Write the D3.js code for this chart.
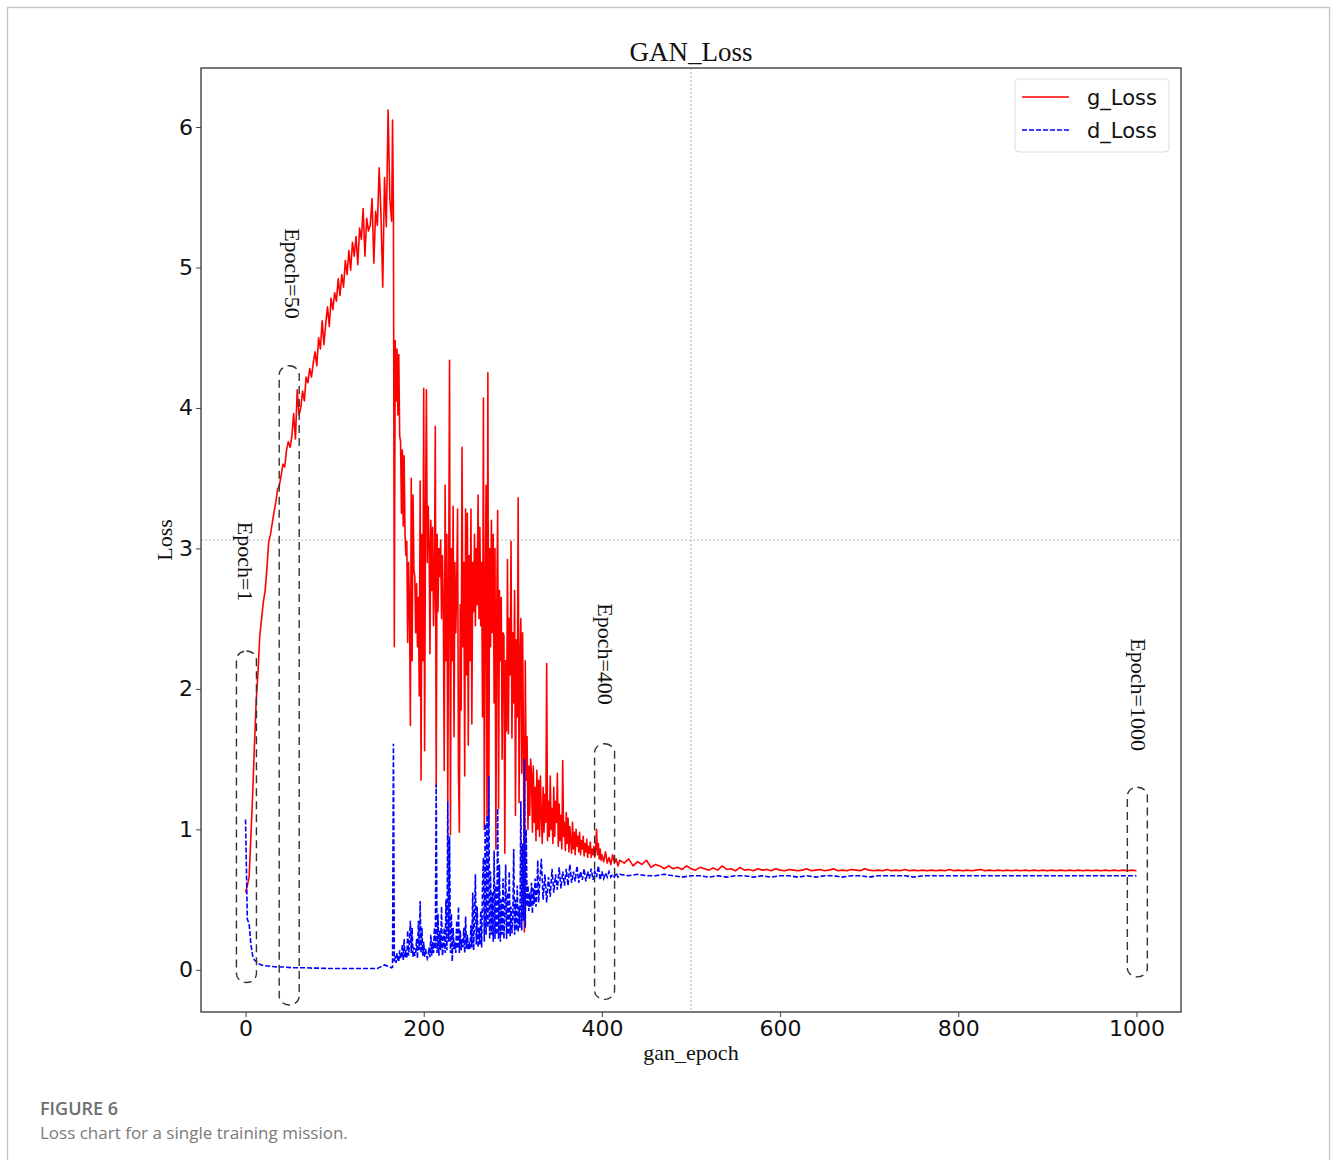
<!DOCTYPE html>
<html>
<head>
<meta charset="utf-8">
<script src="https://cdn.jsdelivr.net/npm/d3@7/dist/d3.min.js"></script>
<style>
  body { margin: 0; background: #fff; }
  .serif { font-family: "Liberation Serif", "Times New Roman", serif; }
  .sans { font-family: "DejaVu Sans", sans-serif; }
</style>
</head>
<body>
<div id="chart"></div>
<script>
// g_Loss, epochs 0..164 every 2
var gRise = [0.55, 0.60, 0.66, 0.95, 1.25, 1.60, 1.92, 2.12, 2.38, 2.50,
  2.62, 2.70, 2.86, 3.05, 3.10, 3.18, 3.26, 3.33, 3.42, 3.45,
  3.52, 3.60, 3.58, 3.70, 3.76, 3.72, 3.80, 3.96, 3.78, 4.13,
  3.95, 4.00, 4.12, 4.05, 4.22, 4.18, 4.28, 4.22, 4.32, 4.40,
  4.30, 4.50, 4.42, 4.62, 4.45, 4.60, 4.72, 4.58, 4.78, 4.70,
  4.82, 4.76, 4.92, 4.80, 4.95, 4.86, 5.05, 4.95, 5.12, 4.98,
  5.18, 5.08, 5.22, 5.02, 5.28, 5.20, 5.42, 5.08, 5.35, 5.26,
  5.30, 5.49, 5.03, 5.40, 5.30, 5.71, 5.38, 4.86, 5.64, 5.29,
  6.12, 5.48, 5.33];
// g_Loss, epochs 165..320 every epoch
var gSpiky = [6.05, 5.40, 2.30, 4.48, 4.05, 4.42, 3.95, 4.38, 3.80, 3.76,
  3.25, 3.70, 3.16, 3.66, 3.10, 2.95, 3.05, 2.33, 2.90, 2.60,
  1.74, 3.50, 2.20, 3.38, 2.85, 2.80, 2.40, 2.75, 2.30, 2.65,
  1.95, 3.48, 1.35, 3.10, 2.20, 4.14, 1.56, 3.20, 4.13, 2.90,
  3.30, 3.05, 2.25, 3.20, 2.70, 3.15, 2.45, 2.75, 3.87, 1.30,
  3.10, 2.55, 3.00, 2.80, 3.06, 2.50, 2.95, 2.60, 1.42, 3.45,
  2.20, 3.10, 1.20, 2.80, 4.34, 0.96, 3.00, 2.20, 3.30, 1.66,
  2.90, 2.40, 2.75, 3.28, 1.42, 0.98, 2.60, 1.85, 3.72, 2.30,
  2.90, 1.38, 3.28, 2.10, 3.25, 1.60, 2.95, 2.20, 3.28, 1.75,
  2.90, 2.55, 3.10, 2.45, 3.00, 2.60, 3.38, 2.50, 3.15, 2.45,
  2.90, 1.80, 4.07, 1.00, 2.70, 3.45, 1.10, 4.25, 1.05, 3.00,
  2.30, 3.20, 2.40, 3.10, 1.90, 3.00, 0.86, 2.60, 3.27, 1.15,
  2.70, 2.20, 2.65, 1.50, 2.40, 2.38, 0.83, 2.20, 1.70, 2.92,
  1.68, 2.50, 2.10, 3.05, 1.65, 2.40, 1.90, 2.70, 1.10, 2.35,
  1.80, 3.36, 1.19, 2.20, 2.50, 1.40, 2.40, 1.55, 0.27, 2.20,
  1.35, 1.66, 1.00, 1.45, 1.10, 1.50];
// g_Loss, epochs 321..400 every epoch
var gSettle = [1.40, 0.98, 1.45, 1.05, 1.30, 0.92, 1.42, 1.00, 1.35, 0.95,
  1.38, 1.10, 0.90, 1.30, 0.98, 1.25, 1.05, 2.18, 0.92, 1.20,
  0.95, 1.38, 1.00, 1.15, 0.90, 1.30, 0.95, 1.20, 1.05, 1.40,
  0.88, 1.18, 0.92, 1.10, 0.86, 1.49, 0.95, 1.05, 0.85, 1.12,
  0.90, 1.08, 0.84, 1.02, 0.92, 0.83, 1.05, 0.86, 0.98, 0.82,
  1.00, 0.88, 0.95, 0.84, 0.98, 0.82, 0.92, 0.86, 0.95, 0.81,
  0.90, 0.84, 0.93, 0.80, 0.88, 0.83, 0.91, 0.80, 0.86, 0.82,
  0.88, 0.80, 0.86, 1.00, 0.82, 0.90, 0.79, 0.86, 0.78, 0.82];
// g_Loss, epochs 402..420 every 2
var gTail = [0.77, 0.84, 0.76, 0.80, 0.75, 0.82, 0.76, 0.79, 0.74, 0.78];
// g_Loss, epochs 425..1000 every 5
var gFlat = [0.76, 0.79, 0.74, 0.77, 0.75, 0.78, 0.73, 0.75, 0.74, 0.72,
  0.74, 0.72, 0.73, 0.715, 0.74, 0.72, 0.71, 0.73, 0.72, 0.71,
  0.725, 0.71, 0.74, 0.715, 0.72, 0.705, 0.73, 0.71, 0.715, 0.705,
  0.72, 0.71, 0.715, 0.705, 0.72, 0.71, 0.705, 0.715, 0.71, 0.705,
  0.71, 0.72, 0.705, 0.71, 0.715, 0.705, 0.71, 0.72, 0.705, 0.71,
  0.705, 0.715, 0.71, 0.705, 0.72, 0.71, 0.705, 0.71, 0.705, 0.715,
  0.705, 0.71, 0.705, 0.715, 0.705, 0.71, 0.705, 0.71, 0.705, 0.71,
  0.705, 0.71, 0.705, 0.715, 0.705, 0.71, 0.705, 0.71, 0.705, 0.71,
  0.715, 0.705, 0.71, 0.705, 0.71, 0.705, 0.71, 0.705, 0.71, 0.705,
  0.71, 0.705, 0.71, 0.705, 0.71, 0.705, 0.71, 0.705, 0.71, 0.705,
  0.71, 0.705, 0.71, 0.705, 0.71, 0.705, 0.71, 0.705, 0.71, 0.705,
  0.71, 0.705, 0.71, 0.705, 0.71, 0.705];

// d_Loss, epochs 0..20 every 2
var dDrop = [1.07, 0.36, 0.33, 0.18, 0.10, 0.07, 0.06, 0.045, 0.04, 0.035, 0.03];
// d_Loss, epochs 28..164 every 8
var dLow = [0.025, 0.02, 0.02, 0.015, 0.015, 0.015, 0.012, 0.012, 0.01, 0.01,
  0.01, 0.01, 0.01, 0.01, 0.01, 0.01, 0.035, 0.015];
// d_Loss, epochs 165..330 every epoch
var dSpiky = [0.02, 1.61, 0.06, 0.10, 0.05, 0.12, 0.07, 0.06, 0.14, 0.08,
  0.10, 0.18, 0.07, 0.22, 0.09, 0.14, 0.08, 0.28, 0.10, 0.20,
  0.35, 0.12, 0.30, 0.09, 0.16, 0.10, 0.12, 0.22, 0.08, 0.35,
  0.14, 0.49, 0.12, 0.30, 0.10, 0.20, 0.09, 0.15, 0.11, 0.08,
  0.10, 0.16, 0.09, 0.25, 0.10, 0.20, 0.12, 0.30, 0.15, 1.32,
  0.12, 0.40, 0.10, 0.28, 0.14, 0.45, 0.10, 0.18, 0.30, 0.12,
  0.50, 0.14, 1.20, 0.20, 0.95, 0.12, 0.40, 0.06, 0.30, 0.15,
  0.20, 0.12, 0.35, 0.15, 0.45, 0.12, 0.28, 0.14, 0.22, 0.16,
  0.30, 0.12, 0.38, 0.15, 0.25, 0.14, 0.20, 0.15, 0.32, 0.16,
  0.55, 0.14, 0.40, 0.68, 0.18, 0.45, 0.16, 0.30, 0.18, 0.42,
  0.16, 0.60, 0.80, 0.20, 1.04, 0.25, 1.10, 0.30, 1.38, 0.22,
  0.70, 0.25, 0.55, 0.20, 0.85, 0.22, 0.60, 0.25, 1.15, 0.22,
  0.75, 0.20, 0.50, 0.25, 0.65, 0.22, 0.40, 0.75, 0.22, 0.55,
  0.25, 0.70, 0.24, 0.45, 0.26, 0.38, 0.86, 0.25, 0.50, 0.28,
  0.60, 0.27, 0.45, 0.30, 1.20, 0.28, 0.90, 0.35, 1.50, 0.30,
  1.00, 0.45, 0.60, 0.42, 0.55, 0.45, 0.62, 0.40, 0.58, 0.47,
  0.65, 0.45, 0.55, 0.78, 0.48, 0.60];
// d_Loss, epochs 332..420 every 2
var dSettle = [0.79, 0.50, 0.68, 0.48, 0.66, 0.52, 0.72, 0.55, 0.68, 0.57,
  0.73, 0.58, 0.70, 0.60, 0.72, 0.60, 0.75, 0.62, 0.70, 0.63,
  0.74, 0.62, 0.70, 0.64, 0.72, 0.63, 0.70, 0.65, 0.72, 0.64,
  0.70, 0.66, 0.74, 0.64, 0.70, 0.65, 0.69, 0.66, 0.70, 0.66,
  0.68, 0.66, 0.69, 0.66, 0.68];
// d_Loss, epochs 430..1000 every 10
var dFlat = [0.67, 0.68, 0.67, 0.67, 0.68, 0.67, 0.66, 0.67, 0.67, 0.66,
  0.67, 0.66, 0.67, 0.67, 0.66, 0.67, 0.66, 0.67, 0.67, 0.66,
  0.67, 0.66, 0.67, 0.67, 0.66, 0.67, 0.67, 0.66, 0.67, 0.67,
  0.67, 0.67, 0.66, 0.67, 0.67, 0.67, 0.67, 0.67, 0.67, 0.67,
  0.67, 0.67, 0.67, 0.67, 0.67, 0.67, 0.67, 0.67, 0.67, 0.67,
  0.67, 0.67, 0.67, 0.67, 0.67, 0.67, 0.67, 0.67];

var xTicks = [0, 200, 400, 600, 800, 1000];
var yTicks = [0, 1, 2, 3, 4, 5, 6];
var guideEpoch = 500, guideLoss = 3.06;

// the dashed call-outs
var markText = ["Epoch=1", "Epoch=50", "Epoch=400", "Epoch=1000"];
var markEpoch = [1, 49, 403, 1001];
var markTop = [2.27, 4.30, 1.61, 1.30];
var markBottom = [-0.09, -0.25, -0.21, -0.05];
var labelEpoch = [-8, 44, 396, 994];
var labelTop = [3.19, 5.28, 2.61, 2.36];

var w = 1331, h = 1160;
var plotL = 201, plotR = 1181, plotT = 68, plotB = 1012;

var svg = d3.select("#chart").append("svg")
  .attr("width", w).attr("height", h);

svg.append("rect").attr("x", 7.5).attr("y", 7.5)
  .attr("width", 1322).attr("height", 1220)
  .attr("fill", "none").attr("stroke", "#c4c4c4").attr("stroke-width", 1.3);

var x = d3.scaleLinear().domain([-50, 1050]).range([plotL, plotR]);
var y = d3.scaleLinear().domain([-0.30, 6.42]).range([plotB, plotT]);

function seg(start, step, vals) {
  return vals.map(function(v, i) { return { e: start + i * step, v: v }; });
}
var gData = seg(0, 2, gRise).concat(seg(165, 1, gSpiky), seg(321, 1, gSettle), seg(402, 2, gTail), seg(425, 5, gFlat));
var dData = seg(0, 2, dDrop).concat(seg(28, 8, dLow), seg(165, 1, dSpiky), seg(332, 2, dSettle), seg(430, 10, dFlat));

var line = d3.line().x(function(d) { return x(d.e); }).y(function(d) { return y(d.v); });

// center guides
svg.append("line")
  .attr("x1", x(guideEpoch)).attr("x2", x(guideEpoch))
  .attr("y1", plotT).attr("y2", plotB)
  .attr("stroke", "#b0b0b0").attr("stroke-width", 1).attr("stroke-dasharray", "2,2");
svg.append("line")
  .attr("x1", plotL).attr("x2", plotR)
  .attr("y1", y(guideLoss)).attr("y2", y(guideLoss))
  .attr("stroke", "#b0b0b0").attr("stroke-width", 1).attr("stroke-dasharray", "2,2");

svg.append("path").datum(gData).attr("d", line)
  .attr("fill", "none").attr("stroke", "#ff0000").attr("stroke-width", 1.6)
  .attr("stroke-linejoin", "round");
svg.append("path").datum(dData).attr("d", line)
  .attr("fill", "none").attr("stroke", "#0000ff").attr("stroke-width", 1.6)
  .attr("stroke-dasharray", "5,2");

// call-out capsules
markText.forEach(function(t, i) {
  var cx = x(markEpoch[i]);
  svg.append("rect")
    .attr("x", cx - 10).attr("width", 20)
    .attr("y", y(markTop[i])).attr("height", y(markBottom[i]) - y(markTop[i]))
    .attr("rx", 10).attr("ry", 9)
    .attr("fill", "none").attr("stroke", "#333").attr("stroke-width", 1.4)
    .attr("stroke-dasharray", "8,5");
  svg.append("text").attr("class", "serif")
    .attr("transform", "translate(" + x(labelEpoch[i]) + "," + y(labelTop[i]) + ") rotate(90)")
    .attr("font-size", 22).attr("fill", "#111")
    .text(t);
});

// axes
var xAxis = d3.axisBottom(x).tickValues(xTicks).tickFormat(d3.format("d")).tickSize(5).tickPadding(3);
var yAxis = d3.axisLeft(y).tickValues(yTicks).tickFormat(d3.format("d")).tickSize(5).tickPadding(3);
var gx = svg.append("g").attr("transform", "translate(0," + plotB + ")").call(xAxis);
var gy = svg.append("g").attr("transform", "translate(" + plotL + ",0)").call(yAxis);
[gx, gy].forEach(function(g) {
  g.select(".domain").remove();
  g.selectAll("line").attr("stroke", "#444");
  g.selectAll("text").attr("class", "sans").attr("font-size", 22).attr("fill", "#111");
});

svg.append("rect").attr("x", plotL).attr("y", plotT)
  .attr("width", plotR - plotL).attr("height", plotB - plotT)
  .attr("fill", "none").attr("stroke", "#333").attr("stroke-width", 1.3);

svg.append("text").attr("class", "serif")
  .attr("x", (plotL + plotR) / 2).attr("y", 61).attr("text-anchor", "middle")
  .attr("font-size", 27).attr("fill", "#111").text("GAN_Loss");
svg.append("text").attr("class", "serif")
  .attr("x", (plotL + plotR) / 2).attr("y", 1060).attr("text-anchor", "middle")
  .attr("font-size", 22).attr("fill", "#111").text("gan_epoch");
svg.append("text").attr("class", "serif")
  .attr("transform", "translate(172,540) rotate(-90)").attr("text-anchor", "middle")
  .attr("font-size", 22).attr("fill", "#111").text("Loss");

// legend
var lg = svg.append("g").attr("transform", "translate(1015,79)");
lg.append("rect").attr("width", 154).attr("height", 73).attr("rx", 4)
  .attr("fill", "#fff").attr("fill-opacity", 0.8).attr("stroke", "#dcdcdc");
lg.append("line").attr("x1", 7).attr("x2", 54).attr("y1", 18).attr("y2", 18)
  .attr("stroke", "#ff0000").attr("stroke-width", 1.6);
lg.append("line").attr("x1", 7).attr("x2", 54).attr("y1", 51).attr("y2", 51)
  .attr("stroke", "#0000ff").attr("stroke-width", 1.6).attr("stroke-dasharray", "5,2");
lg.append("text").attr("class", "sans").attr("x", 72).attr("y", 26)
  .attr("font-size", 21).attr("fill", "#111").text("g_Loss");
lg.append("text").attr("class", "sans").attr("x", 72).attr("y", 59)
  .attr("font-size", 21).attr("fill", "#111").text("d_Loss");

// figure caption
svg.append("text").attr("x", 40).attr("y", 1115)
  .style("font-family", "'Open Sans', sans-serif").style("font-weight", 600)
  .attr("font-size", 18).attr("fill", "#6e6e6e").text("FIGURE 6");
svg.append("text").attr("x", 40).attr("y", 1139)
  .style("font-family", "'Open Sans', sans-serif")
  .attr("font-size", 17).attr("fill", "#7a7a7a").text("Loss chart for a single training mission.");
</script>
</body>
</html>
